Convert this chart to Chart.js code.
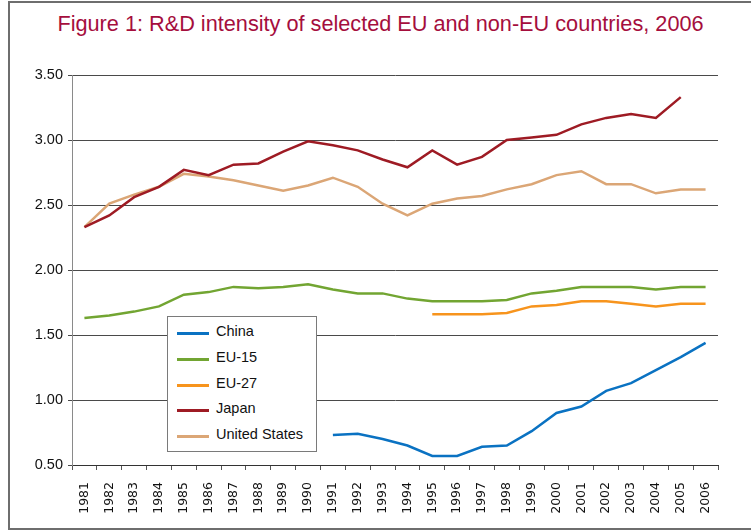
<!DOCTYPE html>
<html>
<head>
<meta charset="utf-8">
<script src="https://cdn.jsdelivr.net/npm/chart.js@4/dist/chart.umd.min.js"></script>
<style>
  body { margin: 0; background: #fff; }
  #wrap { position: relative; width: 751px; height: 530px; overflow: hidden; }
  #frame { position: absolute; left: 8px; top: 1px; width: 760px; height: 525px;
           border: 2px solid #6e6e6e; border-right: none; }
  #title { position: absolute; left: 0; top: 11px; width: 761px; text-align: center;
           font-family: "Liberation Sans", Arial, sans-serif; font-size: 21.7px;
           color: #a50e3d; }
  #legend { position: absolute; left: 167px; top: 316px; width: 148px; height: 134px;
            border: 1.5px solid #7a7a7a; background: #fff; }
  .item { position: absolute; left: 9px; height: 20px; font-family: "Liberation Sans", Arial, sans-serif;
          font-size: 14.5px; color: #111; }
  .item span.l { position: absolute; left: 0; top: 9px; width: 32px; height: 3px; }
  .item span.t { position: absolute; left: 39px; top: 0px; white-space: nowrap; }
  canvas { position: absolute; left: 0; top: 0; }
</style>
</head>
<body>
<div id="wrap">
  <div id="frame"></div>
  <div id="title">Figure 1: R&amp;D intensity of selected EU and non-EU countries, 2006</div>
  <canvas id="myChart" width="751" height="530"></canvas>
  <div id="legend"></div>
</div>
<script>
// years
const years = ['1981','1982','1983','1984','1985','1986','1987','1988','1989','1990','1991','1992','1993',
  '1994','1995','1996','1997','1998','1999','2000','2001','2002','2003','2004','2005','2006']

// R&D intensity, % of GDP
const china = [null,null,null,null,null,null,null,null,null,null,0.73,0.74,0.70,
  0.65,0.57,0.57,0.64,0.65,0.76,0.90,0.95,1.07,1.13,1.23,1.33,1.44]
const eu15 = [1.63,1.65,1.68,1.72,1.81,1.83,1.87,1.86,1.87,1.89,1.85,1.82,1.82,
  1.78,1.76,1.76,1.76,1.77,1.82,1.84,1.87,1.87,1.87,1.85,1.87,1.87]
const eu27 = [null,null,null,null,null,null,null,null,null,null,null,null,null,
  null,1.66,1.66,1.66,1.67,1.72,1.73,1.76,1.76,1.74,1.72,1.74,1.74]
const japan = [2.33,2.42,2.56,2.64,2.77,2.73,2.81,2.82,2.91,2.99,2.96,2.92,2.85,
  2.79,2.92,2.81,2.87,3.00,3.02,3.04,3.12,3.17,3.20,3.17,3.33,null]
const us = [2.33,2.51,2.58,2.64,2.74,2.72,2.69,2.65,2.61,2.65,2.71,2.64,2.51,
  2.42,2.51,2.55,2.57,2.62,2.66,2.73,2.76,2.66,2.66,2.59,2.62,2.62]

const yTicks = [0.5, 1.0, 1.5, 2.0, 2.5, 3.0, 3.5]

const line = (label, data, color) => ({
  label: label, data: data, borderColor: color, backgroundColor: color,
  borderWidth: 2.5, pointRadius: 0, tension: 0, spanGaps: false
})

let ctx = document.getElementById('myChart')
let myChart = new Chart(ctx, {
  type: 'line',
  data: {
    labels: years,
    datasets: [
      line('China', china, '#0a72c2'),
      line('EU-15', eu15, '#72a532'),
      line('EU-27', eu27, '#f7941d'),
      line('Japan', japan, '#9e1b24'),
      line('United States', us, '#dba676')
    ]
  },
  options: {
    responsive: false,
    animation: false,
    layout: { padding: { top: 75, right: 33, left: 0, bottom: 0 } },
    plugins: { legend: { display: false }, tooltip: { enabled: false }, title: { display: false } },
    scales: {
      x: {
        offset: true,
        grid: { offset: true, drawOnChartArea: false, tickLength: 5, color: '#555' },
        border: { color: '#333', width: 1 },
        ticks: { minRotation: 90, maxRotation: 90, autoSkip: false, padding: 12,
                 color: '#111', font: { family: 'DejaVu Sans', size: 12.5 } },
        afterFit: s => { s.height = 65 }
      },
      y: {
        min: 0.5, max: 3.5,
        afterBuildTicks: s => { s.ticks = yTicks.map(v => ({ value: v })) },
        grid: { color: '#4a4a4a', lineWidth: 1, tickLength: 4 },
        border: { color: '#8a8a8a', width: 1 },
        ticks: { padding: 5, color: '#111', font: { family: 'Liberation Sans', size: 14.5 },
                 callback: v => Number(v).toFixed(2) },
        afterFit: s => { s.width = 72 }
      }
    }
  }
})

// legend box inside the plot, built from the datasets
const leg = document.getElementById('legend')
myChart.data.datasets.forEach((d, i) => {
  const row = document.createElement('div')
  row.className = 'item'
  row.style.top = (6 + i * 25.8) + 'px'
  row.innerHTML = '<span class="l" style="background:' + d.borderColor + '"></span><span class="t">' + d.label + '</span>'
  leg.appendChild(row)
})
</script>
</body>
</html>
